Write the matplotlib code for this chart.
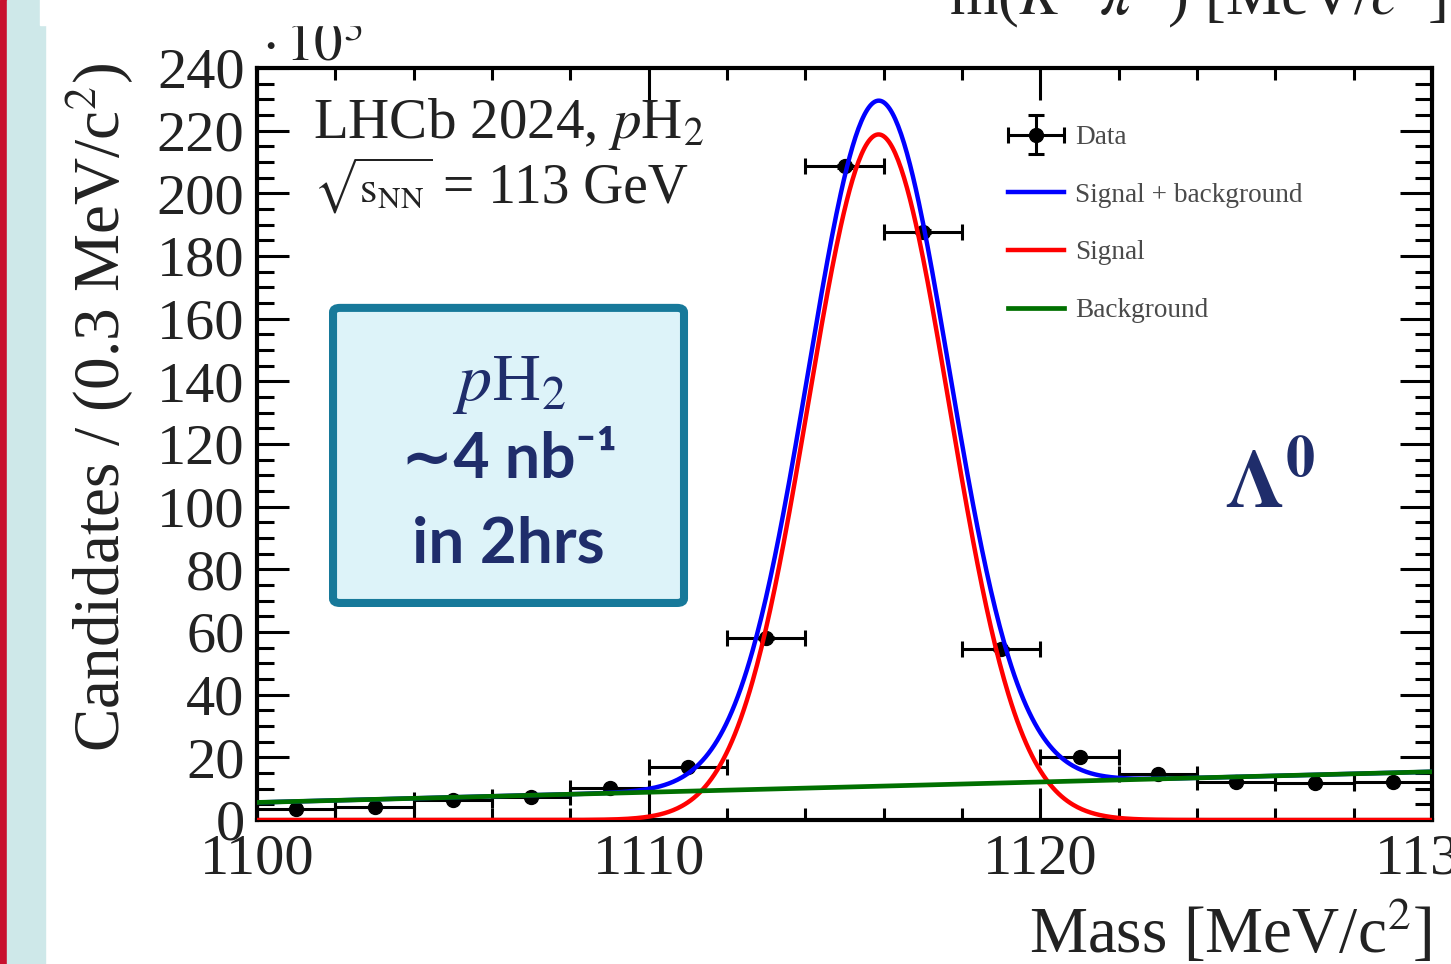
"""
Lambda0 mass fit, LHCb 2024 pH2 sample, slide-style recreation.
"""
import numpy as np
import matplotlib

matplotlib.use("Agg")
import matplotlib.pyplot as plt
from matplotlib.patches import Rectangle, FancyBboxPatch
from matplotlib.ticker import MultipleLocator
from matplotlib.legend_handler import HandlerErrorbar
from matplotlib.container import ErrorbarContainer

plt.rcParams["font.family"] = ["Liberation Serif", "DejaVu Serif"]
plt.rcParams["mathtext.fontset"] = "stix"

# binned data (candidates x 10^3 per bin)
bin_centres = [1101, 1103, 1105, 1107, 1109, 1111, 1113, 1115, 1117, 1119,
               1121, 1123, 1125, 1127, 1129]
counts = [3.5, 4.1, 6.4, 7.3, 10.2, 16.9, 58.1, 208.7, 187.8, 54.6,
          20.1, 14.7, 12.1, 11.8, 12.1]
count_err = [0.06, 0.06, 0.08, 0.09, 0.10, 0.13, 0.24, 0.46, 0.43, 0.23,
             0.14, 0.12, 0.11, 0.11, 0.11]
bin_half = 1.0

# fit result: gaussian signal + linear background
sig_amp = 218.8
sig_mean = 1115.87
sig_width = 1.80
bkg_lo = 5.6    # background at 1100
bkg_hi = 15.4   # background at 1130

legend_labels = ["Data", "Signal + background", "Signal", "Background"]

W, H = 1451, 964
NAVY = "#1f2d6b"
INK = "#222222"


def fx(px):
    return px / W


def fy(py):
    return 1 - py / H


fig = plt.figure(figsize=(W / 100, H / 100), dpi=100)

# slide decoration on the left
fig.add_artist(Rectangle((0, 0), fx(7), 1, transform=fig.transFigure,
                         color="#c8102e", zorder=0))
fig.add_artist(Rectangle((fx(7), 0), fx(38), 1, transform=fig.transFigure,
                         color="#cee8e9", zorder=0))

ax = fig.add_axes([fx(257), fy(820), fx(1175), (820 - 68) / H])

m = np.linspace(1100, 1130, 800)
bkg = bkg_lo + (bkg_hi - bkg_lo) * (m - 1100) / 30
sig = sig_amp * np.exp(-0.5 * ((m - sig_mean) / sig_width) ** 2)

eb = ax.errorbar(bin_centres, counts, xerr=bin_half, yerr=count_err, fmt="o",
                 color="black", ms=10, elinewidth=2.2, capsize=6, capthick=2.2,
                 zorder=2)
l_sb, = ax.plot(m, sig + bkg, color="#0000ff", lw=3.2, zorder=3)
l_s, = ax.plot(m, sig, color="#ff0000", lw=3.2, zorder=3)
l_b, = ax.plot(m, bkg, color="#007000", lw=3.4, zorder=4)

ax.set_xlim(1100, 1130)
ax.set_ylim(0, 240)
ax.xaxis.set_major_locator(MultipleLocator(10))
ax.xaxis.set_minor_locator(MultipleLocator(2))
ax.yaxis.set_major_locator(MultipleLocator(20))
ax.yaxis.set_minor_locator(MultipleLocator(5))
ax.tick_params(which="both", direction="in", top=True, right=True,
               width=2.2, labelsize=42, labelcolor=INK)
ax.tick_params(which="major", length=23)
ax.tick_params(axis="x", which="minor", length=8.6)
ax.tick_params(axis="y", which="minor", length=12)
ax.tick_params(axis="x", pad=10)
ax.tick_params(axis="y", pad=9)
for s in ax.spines.values():
    s.set_linewidth(3)

ax.legend([eb, l_sb, l_s, l_b], legend_labels, loc="upper left",
          bbox_to_anchor=(fx(1008), fy(125)), bbox_transform=fig.transFigure,
          frameon=False, fontsize=19.6, labelcolor="#4a4a4a",
          handlelength=2.05, labelspacing=1.2, handletextpad=0.4,
          borderpad=0, borderaxespad=0,
          handler_map={ErrorbarContainer: HandlerErrorbar(xerr_size=1.03,
                                                          yerr_size=0.7)})

ax.text(0.0477, 0.907, r"LHCb 2024, $p$H$_2$", transform=ax.transAxes,
        fontsize=41, va="baseline", color=INK)
ax.text(0.0477, 0.8205, r"$\sqrt{\mathrm{s}_{\mathrm{NN}}}$",
        transform=ax.transAxes, fontsize=32, va="baseline", color=INK)
ax.text(0.158, 0.8205, "= 113 GeV", transform=ax.transAxes, fontsize=40,
        va="baseline", color=INK)

box = FancyBboxPatch((0.0647, 0.2886), 0.2987, 0.3924, transform=ax.transAxes,
                     boxstyle="round,pad=0,rounding_size=0.006",
                     facecolor="#ddf3f9", edgecolor="#17799a", lw=5.8, zorder=5)
ax.add_patch(box)
ax.text(0.2142, 0.5585, r"$p$H$_2$", transform=ax.transAxes, ha="center",
        va="baseline", fontsize=49, color=NAVY, zorder=6)
ax.text(0.2142, 0.4548, "∼4 nb⁻¹", transform=ax.transAxes, ha="center",
        va="baseline", fontsize=45, color=NAVY, fontweight="bold",
        family=["Lato", "DejaVu Sans"], zorder=6)
ax.text(0.2142, 0.3418, "in 2hrs", transform=ax.transAxes, ha="center",
        va="baseline", fontsize=46, color=NAVY, fontweight="bold",
        family=["Lato", "DejaVu Sans"], zorder=6)

ax.text(0.824, 0.415, r"$\mathbf{\Lambda^0}$", transform=ax.transAxes,
        fontsize=60, va="baseline", color=NAVY)

fig.text(fx(100), fy(63), r"Candidates / (0.3 MeV/c$^2$)", rotation=90,
         ha="center", va="top", fontsize=47, color=INK)
fig.text(fx(1432), fy(953), r"Mass [MeV/c$^2$]", ha="right", va="baseline",
         fontsize=47, color=INK)
fig.text(fx(262), fy(60), r"$\cdot\,10^{3}$", va="baseline", fontsize=41,
         color=INK, zorder=3)

# strip of the slide element above the plot
fig.add_artist(Rectangle((fx(40), fy(25)), 1, 1, transform=fig.transFigure,
                         color="white", zorder=8))
fig.text(fx(949), fy(14), r"m($K^{-}\pi^{+}$) [MeV/$c^{2}$]", va="baseline",
         fontsize=45, color=INK, zorder=9)

fig.savefig("out.png", dpi=100)
